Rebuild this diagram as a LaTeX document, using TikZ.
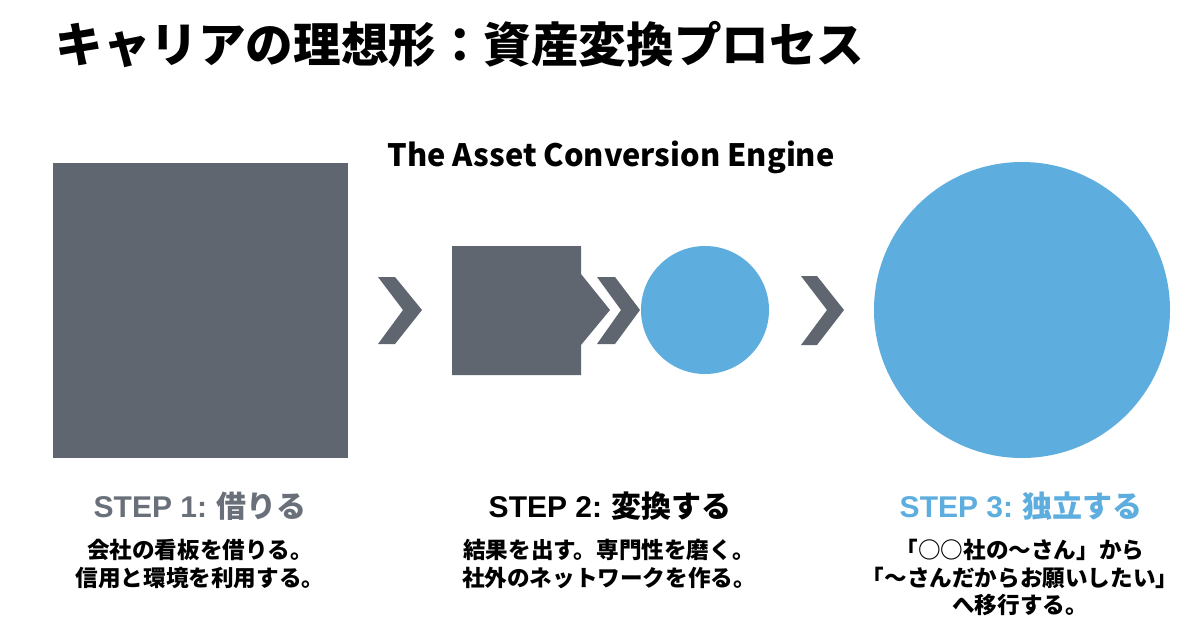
\documentclass[tikz,border=0pt]{standalone}
\usepackage{fontspec}
\setmainfont{Noto Sans CJK JP}
\newfontfamily\latfont{Liberation Sans}
\definecolor{slate}{HTML}{5F6670}
\definecolor{sky}{HTML}{5DAEDE}
\definecolor{stepgray}{HTML}{6A7079}
\tikzset{
  shapefill/.style={fill=slate, draw=none},
  bluefill/.style={fill=sky, draw=none},
  heading/.style={font=\fontsize{15pt}{18pt}\selectfont\bfseries, inner sep=0pt},
  bodytext/.style={font=\fontsize{11.3pt}{14pt}\selectfont\bfseries, align=center, inner sep=0pt, text=black}
}
\newcommand{\steplabel}[1]{{\latfont\bfseries STEP #1:}}
\begin{document}
\begin{tikzpicture}[x=0.5pt,y=-0.5pt]
\useasboundingbox[fill=white] (0,0) rectangle (1200,632);
% title
\node[anchor=west, inner sep=0pt, font=\fontsize{23.8pt}{28pt}\selectfont\bfseries] (title) at (55,45) {キャリアの理想形：資産変換プロセス};
\node[inner sep=0pt, font=\fontsize{15.4pt}{18pt}\selectfont\bfseries] (sub) at (611,157) {The Asset Conversion Engine};
% step 1 square
\path[shapefill] (53,163) rectangle (348,458);
% chevron 1
\path[shapefill] (378,277) -- (395,277) -- (422,310) -- (395,344) -- (378,344) -- (403,310) -- cycle;
% step 2 shape
\path[shapefill] (452,246) -- (581,246) -- (581,274) -- (610,310) -- (581,345) -- (581,375) -- (452,375) -- cycle;
% chevron 2
\path[shapefill] (597,277) -- (615,277) -- (640,310) -- (615,344) -- (597,344) -- (621,310) -- cycle;
% small circle
\path[bluefill] (705,310) circle[radius=64];
% chevron 3
\path[shapefill] (801,276) -- (817,276) -- (844,310) -- (817,345) -- (801,345) -- (827,310) -- cycle;
% big circle
\path[bluefill] (1022,310) circle[radius=148];
% headings
\node[heading, text=stepgray] (h1) at (200,506) {\steplabel{1} 借りる};
\node[heading, text=black] (h2) at (610,506) {\steplabel{2} 変換する};
\node[heading, text=sky] (h3) at (1021,506) {\steplabel{3} 独立する};
% bodies
\node[bodytext] (b1a) at (200,550) {会社の看板を借りる。};
\node[bodytext] (b1b) at (200,578) {信用と環境を利用する。};
\node[bodytext] (b2a) at (609,550) {結果を出す。専門性を磨く。};
\node[bodytext] (b2b) at (609,578) {社外のネットワークを作る。};
\node[bodytext] (b3a) at (1020,550) {「○○社の〜さん」から};
\node[bodytext] (b3b) at (1020,578) {「〜さんだからお願いしたい」};
\node[bodytext] (b3c) at (1020,605) {へ移行する。};
\end{tikzpicture}
\end{document}
